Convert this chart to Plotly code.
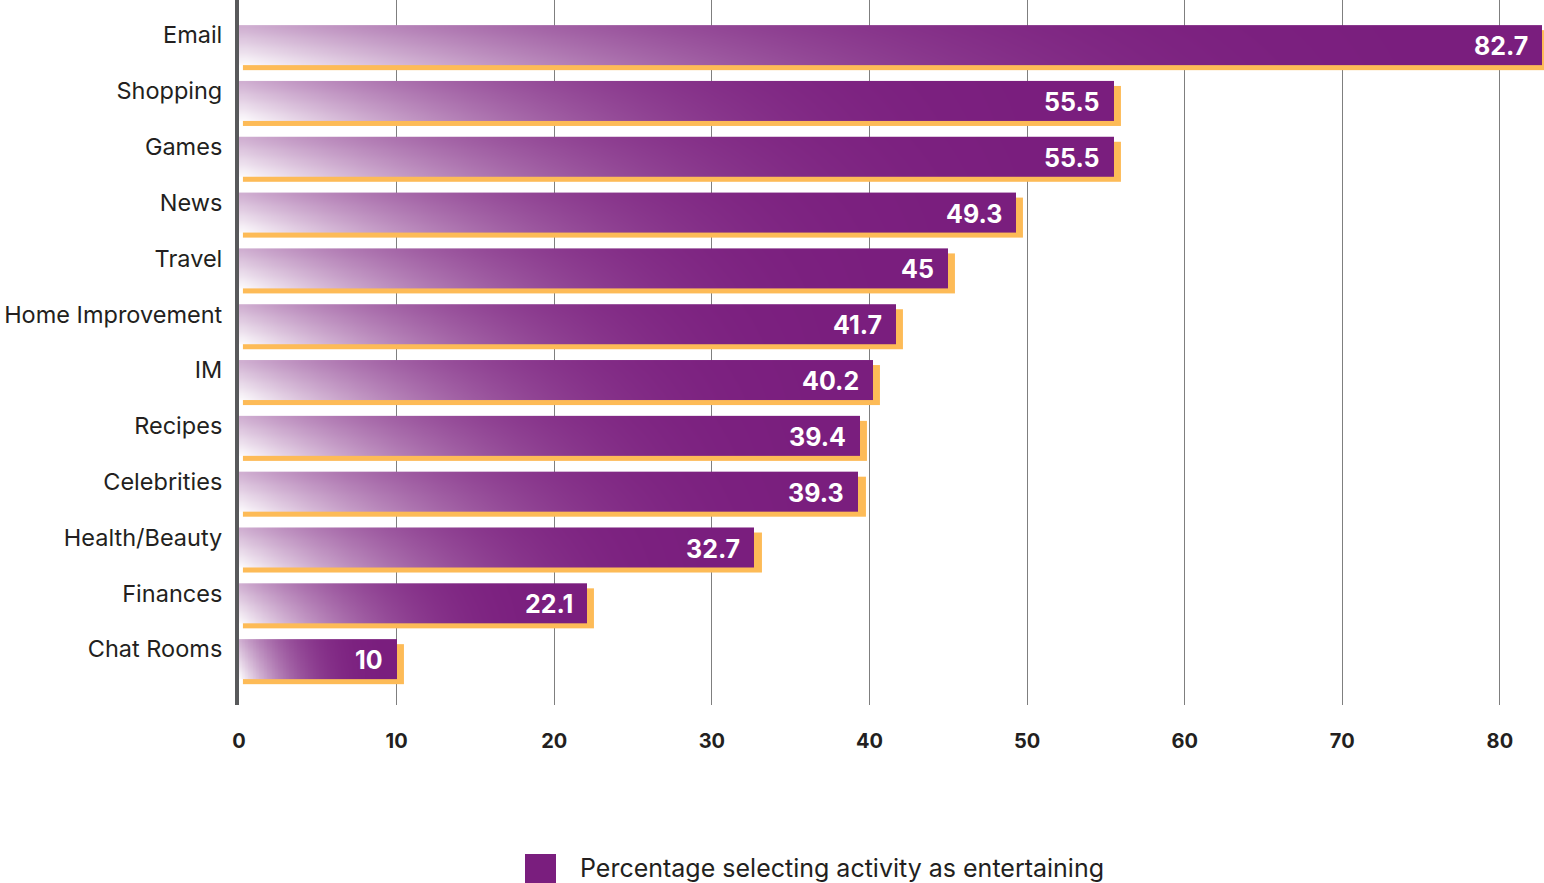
import numpy as np
import plotly.graph_objects as go

# ---- data -------------------------------------------------------------
categories = [
    "Email", "Shopping", "Games", "News", "Travel", "Home Improvement",
    "IM", "Recipes", "Celebrities", "Health/Beauty", "Finances", "Chat Rooms",
]
values = [82.7, 55.5, 55.5, 49.3, 45, 41.7, 40.2, 39.4, 39.3, 32.7, 22.1, 10]
x_tick_values = [0, 10, 20, 30, 40, 50, 60, 70, 80]
series_name = "Percentage selecting activity as entertaining"

# ---- style ------------------------------------------------------------
W, H = 1544, 883
M_L, M_R, M_T, M_B = 239, 0, 0, 178
PURPLE = "#7a1e7e"
ORANGE = "#fdbb57"
AXIS_DARK = "#58595b"
TEXT_DARK = "#231f20"
FONT = "Inter"

BAR_H = 0.72          # bar thickness in category units
SH_X0, SH_X1 = 0.25, 0.45   # shadow start / overhang in value units
SH_DY = 0.09          # shadow drop in category units

fig = go.Figure()

# orange drop shadows behind each bar
for i, v in enumerate(values):
    fig.add_trace(go.Heatmap(
        x=[SH_X0, v + SH_X1],
        y=[i - BAR_H / 2 + SH_DY, i + BAR_H / 2 + SH_DY],
        z=[[1]],
        zmin=0, zmax=1,
        colorscale=[[0, ORANGE], [1, ORANGE]],
        showscale=False, hoverinfo="skip",
    ))

# gradient bars: white at the lower-left corner fading to solid purple
NX, NY = 100, 12
for i, v in enumerate(values):
    xe = np.linspace(0, v, NX + 1)
    ye = np.linspace(i - BAR_H / 2, i + BAR_H / 2, NY + 1)
    s = ((xe[:-1] + xe[1:]) / 2) / v                       # 0 left .. 1 right
    yc = (ye[:-1] + ye[1:]) / 2
    up = (i + BAR_H / 2 - yc) / BAR_H                      # 0 bottom .. 1 top
    z = 1 - (1 - s[None, :]) ** 2.8 * (1 - 0.36 * up[:, None])
    fig.add_trace(go.Heatmap(
        x=xe, y=ye, z=z,
        zmin=0, zmax=1,
        colorscale=[[0, "#ffffff"], [1, PURPLE]],
        zsmooth="best",
        showscale=False, hoverinfo="skip",
    ))

# value labels inside the bar ends
for i, v in enumerate(values):
    fig.add_annotation(
        x=v, y=i, xref="x", yref="y",
        text=f"{v:g}", showarrow=False,
        xanchor="right", yanchor="middle",
        xshift=-12, yshift=-1,
        font=dict(family=FONT, size=25, color="white", weight=700),
    )

# legend key
px_x = lambda p: (p - M_L) / (W - M_L - M_R)
px_y = lambda p: (H - M_B - p) / (H - M_T - M_B)
fig.add_shape(
    type="rect", xref="paper", yref="paper",
    x0=px_x(525), x1=px_x(556), y0=px_y(883), y1=px_y(854),
    fillcolor=PURPLE, line_width=0,
)
fig.add_annotation(
    x=px_x(578), y=px_y(868), xref="paper", yref="paper",
    text=series_name, showarrow=False,
    xanchor="left", yanchor="middle",
    font=dict(family=FONT, size=25, color=TEXT_DARK),
)

fig.update_layout(
    width=W, height=H,
    margin=dict(l=M_L, r=M_R, t=M_T, b=M_B, pad=0),
    paper_bgcolor="white", plot_bgcolor="white",
    showlegend=False,
    font=dict(family=FONT, color=TEXT_DARK),
)
fig.update_xaxes(
    range=[0, 82.8],
    tickvals=x_tick_values,
    showgrid=True, gridcolor="#7f7f7f", gridwidth=1.4,
    zeroline=False, showline=False, ticks="",
    ticklabelstandoff=22,
    tickfont=dict(family=FONT, size=20, color=TEXT_DARK, weight=700),
)
fig.update_yaxes(
    range=[11.82, -0.81],
    tickvals=list(range(len(categories))),
    ticktext=categories,
    showgrid=False, zeroline=False,
    showline=True, linecolor=AXIS_DARK, linewidth=4,
    ticks="", ticklabelstandoff=8, ticklabelshift=10,
    tickfont=dict(family=FONT, size=23.5, color=TEXT_DARK),
)

fig.write_html("out.html")
